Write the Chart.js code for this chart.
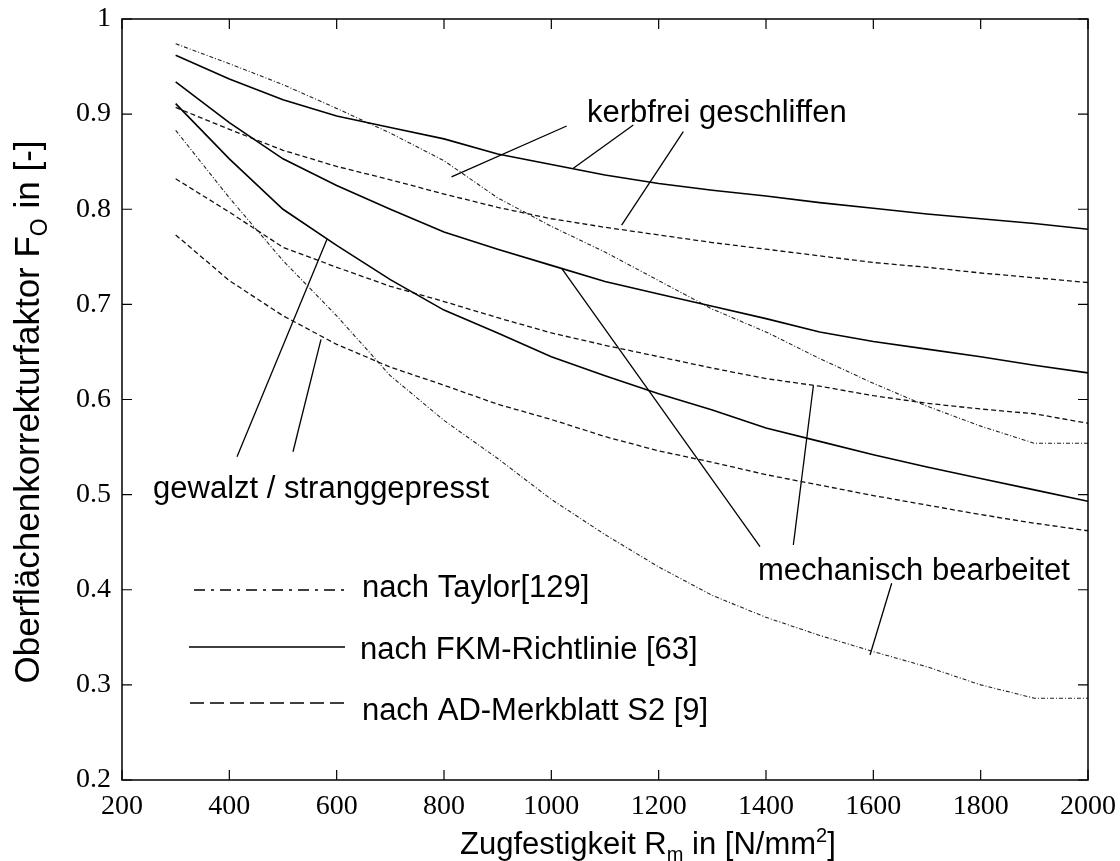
<!DOCTYPE html>
<html><head><meta charset="utf-8">
<script src="https://cdn.jsdelivr.net/npm/chart.js@4.4.1/dist/chart.umd.min.js"></script>
<style>html,body{margin:0;padding:0;background:#fff}#wrap{width:1120px;height:861px;position:relative}</style>
</head><body><div id="wrap"><canvas id="c" width="1120" height="861"></canvas></div>
<script>
// ---- data ----
const RM = [300,400,500,600,700,800,900,1000,1100,1200,1300,1400,1500,1600,1700,1800,1900,2000];
const fkmKerbfrei   = [.962,.937,.915,.898,.886,.874,.858,.847,.836,.827,.820,.814,.807,.801,.795,.790,.785,.779];
const fkmMech       = [.934,.891,.853,.825,.800,.776,.758,.741,.724,.711,.698,.685,.671,.661,.653,.645,.636,.628];
const fkmGewalzt    = [.911,.853,.800,.762,.726,.694,.670,.645,.625,.606,.589,.570,.556,.542,.529,.517,.505,.493];
const adKerbfrei    = [.907,.884,.862,.845,.831,.816,.802,.790,.781,.773,.765,.758,.751,.744,.739,.733,.728,.723];
const adMech        = [.832,.797,.760,.739,.719,.703,.686,.670,.657,.645,.633,.622,.614,.604,.596,.590,.585,.575];
const adGewalzt     = [.773,.725,.688,.658,.634,.615,.595,.579,.561,.546,.534,.521,.510,.499,.489,.479,.470,.462];
const taylorKerbfrei= [.974,.953,.931,.906,.880,.851,.812,.782,.755,.725,.695,.671,.643,.617,.593,.572,.554,.554];
const taylorMech    = [.883,.812,.746,.688,.625,.578,.538,.495,.458,.424,.394,.371,.352,.335,.319,.300,.286,.286];
const X_TICKS = [200,400,600,800,1000,1200,1400,1600,1800,2000];
const Y_TICKS = [0.2,0.3,0.4,0.5,0.6,0.7,0.8,0.9,1];

// leader lines of the annotations (data coordinates: [x1,y1,x2,y2])
const leaders = [
  [814,0.834,1028.6,0.8875],[1041,0.843,1152.8,0.8886],[1131,0.7834,1245.9,0.8815],
  [414.3,0.5399,582,0.7684],[518.6,0.5451,570.8,0.6633],
  [1019.3,0.7379,1388.8,0.4453],[1488.2,0.6142,1450.9,0.447],[1634.2,0.4068,1593.8,0.3314]
];
// legend sample lines [x1,x2,y]
const legendSamples = [[334.2,619.3,0.3997],[324.8,615.5,0.3398],[326.7,619.3,0.2809]];
const labels = [
  {t:'kerbfrei geschliffen', x:1066.5, y:0.8917},
  {t:'mechanisch bearbeitet', x:1385, y:0.4103},
  {t:'gewalzt / stranggepresst', x:257.8, y:0.4965},
  {t:'nach Taylor[129]', x:647, y:0.3924},
  {t:'nach FKM-Richtlinie [63]', x:643.5, y:0.3272},
  {t:'nach AD-Merkblatt S2 [9]', x:647, y:0.2631}
];

const SANS = '"Liberation Sans", Arial, sans-serif';
const SERIF = '"Liberation Serif", "Times New Roman", serif';
const pts = arr => RM.map((r,i)=>({x:r,y:arr[i]}));

const SOLID = {borderColor:'#000', borderWidth:1.6, borderDash:[]};
const DASH  = {borderColor:'#111', borderWidth:1.3, borderDash:[5,3]};
const DDOT  = {borderColor:'#222', borderWidth:1.1, borderDash:[4,2,1,2]};

const datasets = [
  Object.assign({data:pts(fkmKerbfrei)}, SOLID),
  Object.assign({data:pts(fkmMech)}, SOLID),
  Object.assign({data:pts(fkmGewalzt)}, SOLID),
  Object.assign({data:pts(adKerbfrei)}, DASH),
  Object.assign({data:pts(adMech)}, DASH),
  Object.assign({data:pts(adGewalzt)}, DASH),
  Object.assign({data:pts(taylorKerbfrei)}, DDOT),
  Object.assign({data:pts(taylorMech)}, DDOT)
];
leaders.forEach(l => datasets.push({data:[{x:l[0],y:l[1]},{x:l[2],y:l[3]}], borderColor:'#000', borderWidth:1.3}));
const sampleStyles = [{borderWidth:1.5, borderDash:[11,6,3,6]},{borderWidth:1.4, borderDash:[]},{borderWidth:1.5, borderDash:[14,6]}];
legendSamples.forEach((s,i) => datasets.push(Object.assign({data:[{x:s[0],y:s[2]},{x:s[1],y:s[2]}], borderColor:'#000'}, sampleStyles[i])));
datasets.forEach(d => { d.pointRadius = 0; d.tension = 0; d.fill = false; });

function drawRuns(ctx, runs, x, y, size) {
  let cx = x;
  runs.forEach(r => {
    const s = r.sub || r.sup ? Math.round(size*0.65) : size;
    ctx.font = s + 'px ' + SANS;
    const dy = r.sub ? size*0.22 : (r.sup ? -size*0.38 : 0);
    ctx.fillText(r.t, cx, y + dy);
    cx += ctx.measureText(r.t).width;
  });
  return cx - x;
}
function runsWidth(ctx, runs, size) {
  let w = 0;
  runs.forEach(r => { const s = r.sub || r.sup ? Math.round(size*0.65) : size; ctx.font = s + 'px ' + SANS; w += ctx.measureText(r.t).width; });
  return w;
}

const decor = {
  id:'decor',
  afterDraw(chart) {
    const {ctx, chartArea:a, scales:{x, y}} = chart;
    ctx.save();
    ctx.strokeStyle = '#000';
    ctx.lineWidth = 1.5;
    ctx.strokeRect(a.left, a.top, a.right-a.left, a.bottom-a.top);
    const TL = 10;
    ctx.lineWidth = 1.2;
    ctx.beginPath();
    X_TICKS.forEach(v => { const p = x.getPixelForValue(v); ctx.moveTo(p, a.bottom); ctx.lineTo(p, a.bottom-TL); ctx.moveTo(p, a.top); ctx.lineTo(p, a.top+TL); });
    Y_TICKS.forEach(v => { const p = y.getPixelForValue(v); ctx.moveTo(a.left, p); ctx.lineTo(a.left+TL, p); ctx.moveTo(a.right, p); ctx.lineTo(a.right-TL, p); });
    ctx.stroke();
    ctx.fillStyle = '#000';
    ctx.textBaseline = 'alphabetic';
    ctx.textAlign = 'left';
    ctx.font = '31px ' + SANS;
    labels.forEach(l => ctx.fillText(l.t, x.getPixelForValue(l.x), y.getPixelForValue(l.y)));
    // axis titles
    const xr = [{t:'Zugfestigkeit R'},{t:'m',sub:true},{t:' in [N/mm'},{t:'2',sup:true},{t:']'}];
    drawRuns(ctx, xr, 460, 854, 31);
    const yr = [{t:'Oberflächenkorrekturfaktor F'},{t:'O',sub:true},{t:' in [-]'}];
    const w = runsWidth(ctx, yr, 35);
    ctx.translate(39, 412);
    ctx.rotate(-Math.PI/2);
    drawRuns(ctx, yr, -w/2, 0, 35);
    ctx.restore();
  }
};

const noPad = s => { s.paddingTop = 0; s.paddingBottom = 0; s.paddingLeft = 0; s.paddingRight = 0; };

new Chart(document.getElementById('c'), {
  type:'line',
  data:{datasets},
  options:{
    responsive:false, animation:false, devicePixelRatio:1,
    layout:{padding:{left:22, right:32, top:19, bottom:41}},
    plugins:{legend:{display:false}, tooltip:{enabled:false}},
    scales:{
      x:{type:'linear', min:200, max:2000,
         afterBuildTicks: s => { s.ticks = X_TICKS.map(v=>({value:v})); },
         afterFit: s => { s.height = 40; noPad(s); },
         grid:{display:false, drawTicks:false}, border:{display:false},
         ticks:{font:{family:SERIF, size:28}, color:'#000', padding:10, maxRotation:0, autoSkip:false, callback:v=>String(v)}},
      y:{type:'linear', min:0.2, max:1,
         afterBuildTicks: s => { s.ticks = Y_TICKS.map(v=>({value:v})); },
         afterFit: s => { s.width = 100; noPad(s); },
         grid:{display:false, drawTicks:false}, border:{display:false},
         ticks:{font:{family:SERIF, size:28}, color:'#000', padding:11, autoSkip:false, callback:v=>String(Number(v.toFixed(1)))}}
    }
  },
  plugins:[decor]
});
</script></body></html>
